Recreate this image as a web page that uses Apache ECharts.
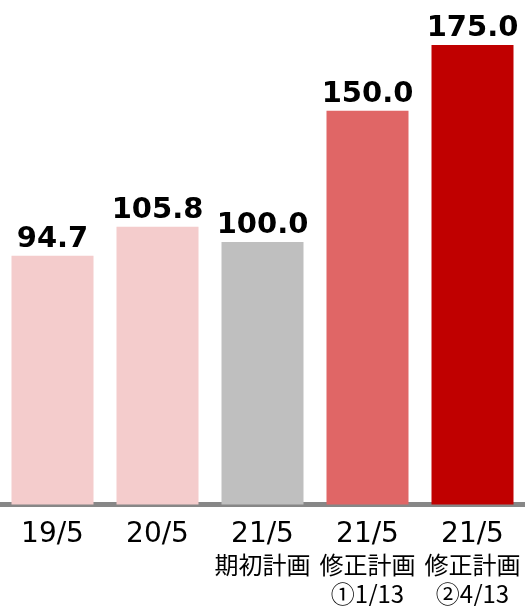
<!DOCTYPE html>
<html>
<head>
<meta charset="utf-8">
<script src="https://cdn.jsdelivr.net/npm/echarts@6/dist/echarts.min.js"></script>
<style>html,body{margin:0;padding:0;background:#fff}#c{width:525px;height:606px}</style>
</head>
<body>
<div id="c"></div>
<script>
const periodLabels = ['19/5', '20/5', '21/5', '21/5', '21/5'];
const planLabels = ['', '', '期初計画', '修正計画', '修正計画'];
const dateLabels = ['', '', '', '①1/13', '②4/13'];
const values = [94.7, 105.8, 100.0, 150.0, 175.0];
const barColors = ['#F4CCCC', '#F4CCCC', '#BFBFBF', '#E06666', '#C00000'];

const categories = periodLabels.map((p, i) => [p, planLabels[i], dateLabels[i]].filter(s => s).join('\n'));

const chart = echarts.init(document.getElementById('c'));
chart.setOption({
  animation: false,
  grid: { left: -2, right: 0, top: 45, bottom: 100, containLabel: false },
  xAxis: {
    type: 'category',
    data: categories,
    offset: 3,
    axisLine: { show: true, lineStyle: { color: '#878787', width: 5 } },
    axisTick: { show: false },
    axisLabel: {
      interval: 0,
      margin: 11,
      formatter: function (v, i) {
        let s = '{a|' + periodLabels[i] + '}';
        if (planLabels[i]) s += '\n{b|' + planLabels[i] + '}';
        if (dateLabels[i]) s += '\n{b|' + dateLabels[i] + '}';
        return s;
      },
      rich: {
        a: { fontFamily: 'DejaVu Sans', fontSize: 28, color: '#000', lineHeight: 32 },
        b: { fontFamily: 'Noto Sans CJK JP', fontSize: 24, color: '#000', lineHeight: 29 }
      }
    }
  },
  yAxis: {
    type: 'value',
    min: 0,
    max: 175,
    show: false
  },
  series: [{
    type: 'bar',
    barWidth: 82,
    data: values.map((v, i) => ({ value: v, itemStyle: { color: barColors[i] } })),
    label: {
      show: true,
      position: 'top',
      distance: 2,
      fontFamily: 'DejaVu Sans',
      fontWeight: 'bold',
      fontSize: 29,
      color: '#000',
      formatter: p => p.value.toFixed(1)
    }
  }]
});
</script>
</body>
</html>
